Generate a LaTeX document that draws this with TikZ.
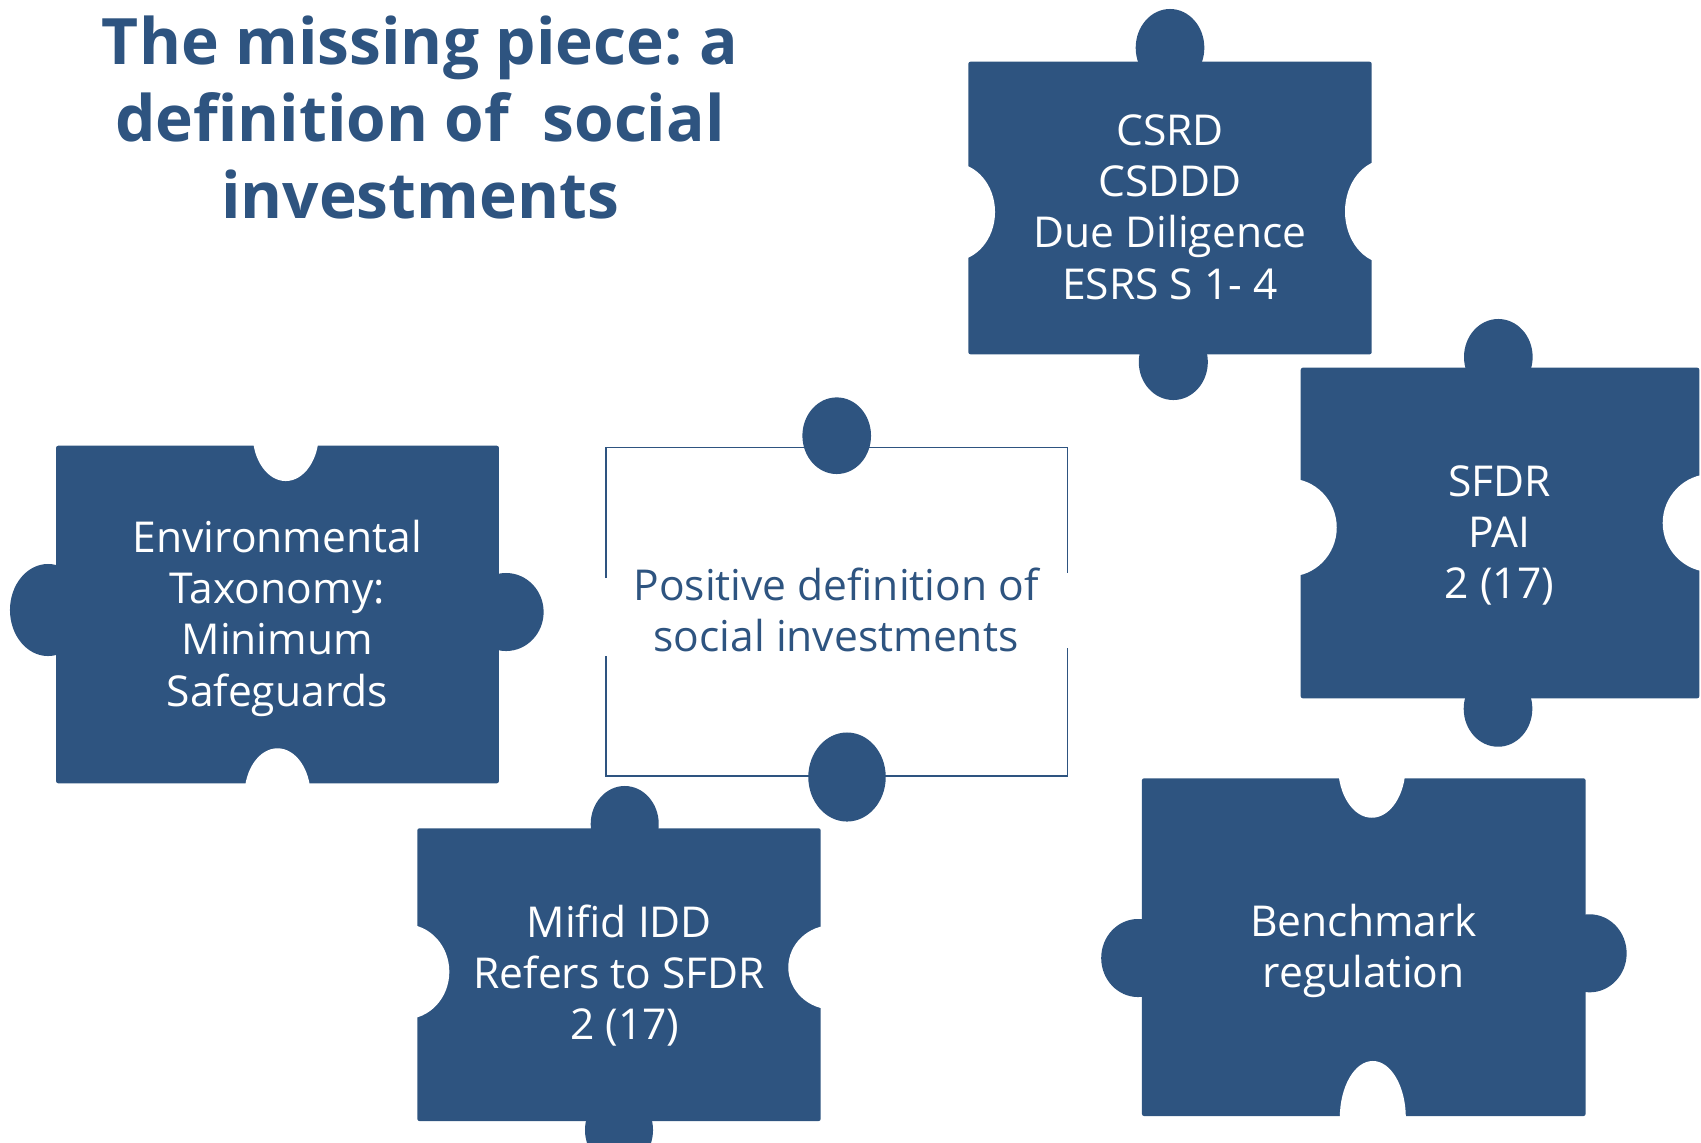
\documentclass[tikz,border=0pt]{standalone}
\usepackage{fontspec}
\setmainfont{Open Sans}
\frenchspacing
\definecolor{pzblue}{RGB}{46,84,128}
\newcommand\pzTop{\rule{0pt}{0.8em}}
\newcommand\pzBot{\rule[-0.8em]{0pt}{0.8em}}
\begin{document}
\begin{tikzpicture}[x=0.01cm,y=-0.01cm,
  pz/.style={fill=pzblue},
  pzrect/.style={fill=pzblue, rounded corners=0.6pt},
  hole/.style={fill=white},
  ptxt/.style={font=\fontsize{12.1}{14.55}\selectfont, text=white, align=center, inner sep=0pt},
  ttl/.style={font=\fontsize{18.2}{21.8}\selectfont\bfseries, text=pzblue, align=center, inner sep=0pt},
  outline/.style={draw=pzblue, line width=0.4pt}]
\useasboundingbox (0,0) rectangle (1701,1142);
\begin{scope}
\clip (0,0) rectangle (1701,1142);

% CSRD piece
\fill[pzrect] (968.3,61.7) rectangle (1371.7,354.3);
\fill[pz] (1170,47.75) ellipse [x radius=0.343cm, y radius=0.3875cm];
\fill[pz] (1173.3,362) ellipse [x radius=0.345cm, y radius=0.38cm];
\fill[hole] (953,212) ellipse [x radius=0.42cm, y radius=0.49cm];
\fill[hole] (1386.7,211.5) ellipse [x radius=0.417cm, y radius=0.52cm];

% SFDR piece
\fill[pzrect] (1300.7,367.7) rectangle (1699.3,698.3);
\fill[pz] (1498.3,357) ellipse [x radius=0.343cm, y radius=0.38cm];
\fill[pz] (1498,708.7) ellipse [x radius=0.343cm, y radius=0.38cm];
\fill[hole] (1288.7,527.5) ellipse [x radius=0.48cm, y radius=0.49cm];
\fill[hole] (1711.3,523) ellipse [x radius=0.486cm, y radius=0.49cm];

% Environmental piece
\fill[pzrect] (56.1,445.7) rectangle (498.9,783.3);
\fill[pz] (48,610) ellipse [x radius=0.38cm, y radius=0.46cm];
\fill[pz] (506,612) ellipse [x radius=0.376cm, y radius=0.39cm];
\fill[hole] (285.7,433.7) ellipse [x radius=0.331cm, y radius=0.473cm];
\fill[hole] (277.5,795.3) ellipse [x radius=0.33cm, y radius=0.47cm];

% Mifid piece
\fill[pzrect] (417.3,828.3) rectangle (820.7,1121);
\fill[pz] (624.7,824) ellipse [x radius=0.34cm, y radius=0.38cm];
\fill[pz] (619,1130) ellipse [x radius=0.34cm, y radius=0.38cm];
\fill[hole] (405.3,971.7) ellipse [x radius=0.44cm, y radius=0.474cm];
\fill[hole] (832.7,967.3) ellipse [x radius=0.444cm, y radius=0.422cm];

% Benchmark piece
\fill[pzrect] (1141.9,778.3) rectangle (1585.6,1116);
\fill[pz] (1138,958) ellipse [x radius=0.368cm, y radius=0.39cm];
\fill[pz] (1589.6,953.3) ellipse [x radius=0.37cm, y radius=0.39cm];
\fill[hole] (1371.8,766.3) ellipse [x radius=0.337cm, y radius=0.514cm];
\fill[hole] (1372.8,1118) ellipse [x radius=0.33cm, y radius=0.57cm];

% Centre (missing) piece
\draw[outline] (606,578) -- (606,447.3) -- (1067.3,447.3) -- (1067.3,572.7);
\draw[outline] (1067.3,648.3) -- (1067.3,776) -- (606,776) -- (606,656);
\fill[pz] (836.7,435.7) ellipse [x radius=0.343cm, y radius=0.383cm];
\fill[pz] (847,777) ellipse [x radius=0.387cm, y radius=0.445cm];

% Texts
\node[ttl] (title) at (420,141.5) {\pzTop The missing piece: a\\definition of\ \ social\\investments\pzBot};
\node[ptxt] (csrd) at (1170,222.4) {\pzTop CSRD\\CSDDD\\Due Diligence\\ESRS S 1- 4\pzBot};
\node[ptxt] (sfdr) at (1499.3,547.5) {\pzTop SFDR\\PAI\\2 (17)\pzBot};
\node[ptxt] (env) at (277.3,629.4) {\pzTop Environmental\\Taxonomy:\\Minimum\\Safeguards\pzBot};
\node[ptxt, text=pzblue] (pos) at (836,625.9) {\pzTop Positive definition of\\social investments\pzBot};
\node[ptxt] (mifid) at (619.3,988.5) {\pzTop Mifid IDD\\Refers to SFDR\\\hspace*{0.108cm}2 (17)\pzBot};
\node[ptxt] (bench) at (1363.6,962.2) {\pzTop Benchmark\\regulation\pzBot};
\end{scope}
\end{tikzpicture}
\end{document}
